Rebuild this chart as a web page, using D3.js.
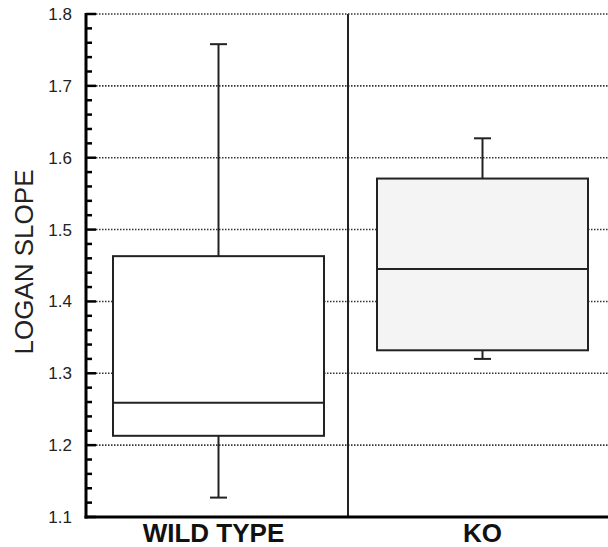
<!DOCTYPE html>
<html>
<head>
<meta charset="utf-8">
<script src="https://cdn.jsdelivr.net/npm/d3@7"></script>
<style>
  body { margin: 0; background: #fff; }
  svg { display: block; font-family: "Liberation Sans", Arial, sans-serif; }
</style>
</head>
<body>
<script>
// groups and box statistics
var groups = ["WILD TYPE", "KO"];
var whiskerLow = [1.127, 1.320];
var q1 = [1.213, 1.332];
var median = [1.259, 1.445];
var q3 = [1.463, 1.571];
var whiskerHigh = [1.758, 1.627];
var fills = ["#ffffff", "#f4f4f4"];
var yTicks = [1.1, 1.2, 1.3, 1.4, 1.5, 1.6, 1.7, 1.8];

var width = 608,
    height = 547;
// plot frame (note: "top" is reserved on window, so use prefixed names)
var plotLeft = 86, plotRight = 608, plotTop = 14, plotBottom = 517;

var svg = d3.select("body").append("svg")
    .attr("width", width)
    .attr("height", height);

var y = d3.scaleLinear().domain([1.1, 1.8]).range([plotBottom, plotTop]);
var x = d3.scaleBand().domain(groups).range([plotLeft, plotRight]).paddingInner(0).paddingOuter(0);
var boxW = 211;

var data = groups.map(function(g, i){
    return {name: g, lo: whiskerLow[i], q1: q1[i], med: median[i], q3: q3[i], hi: whiskerHigh[i], fill: fills[i]};
});

// dotted gridlines
svg.selectAll(".grid")
    .data(yTicks.filter(function(d){ return d > 1.1; }))
    .enter().append("line")
    .attr("x1", plotLeft + 10).attr("x2", plotRight)
    .attr("y1", function(d){ return y(d); })
    .attr("y2", function(d){ return y(d); })
    .attr("stroke", "#333")
    .attr("stroke-width", 1.6)
    .attr("stroke-dasharray", "1.5,1.5");

// group separator
svg.append("line")
    .attr("x1", x("KO") + 1).attr("x2", x("KO") + 1)
    .attr("y1", plotTop).attr("y2", plotBottom)
    .attr("stroke", "#222").attr("stroke-width", 2);

var boxes = svg.selectAll(".box").data(data).enter().append("g")
    .attr("transform", function(d, i){ return "translate(" + (x(d.name) + x.bandwidth() / 2 + (i ? 5 : 2)) + ",0)"; });

boxes.append("line")
    .attr("x1", 0).attr("x2", 0)
    .attr("y1", function(d){ return y(d.lo); })
    .attr("y2", function(d){ return y(d.hi); })
    .attr("stroke", "#222").attr("stroke-width", 2);

boxes.selectAll(".cap")
    .data(function(d){ return [d.lo, d.hi]; })
    .enter().append("line")
    .attr("x1", -8.5).attr("x2", 8.5)
    .attr("y1", function(v){ return y(v); })
    .attr("y2", function(v){ return y(v); })
    .attr("stroke", "#222").attr("stroke-width", 2);

boxes.append("rect")
    .attr("x", -boxW / 2)
    .attr("width", boxW)
    .attr("y", function(d){ return y(d.q3); })
    .attr("height", function(d){ return y(d.q1) - y(d.q3); })
    .attr("fill", function(d){ return d.fill; })
    .attr("stroke", "#222").attr("stroke-width", 2);

boxes.append("line")
    .attr("x1", -boxW / 2).attr("x2", boxW / 2)
    .attr("y1", function(d){ return y(d.med); })
    .attr("y2", function(d){ return y(d.med); })
    .attr("stroke", "#222").attr("stroke-width", 2);

// y axis with inward ticks
var minor = d3.range(1.1, 1.8001, 0.02);
svg.selectAll(".minor")
    .data(minor)
    .enter().append("line")
    .attr("x1", plotLeft).attr("x2", function(d){ return Math.abs(d * 10 - Math.round(d * 10)) < 0.01 ? plotLeft + 10 : plotLeft + 6; })
    .attr("y1", function(d){ return y(d); })
    .attr("y2", function(d){ return y(d); })
    .attr("stroke", "#000").attr("stroke-width", 2.5);

svg.append("line")
    .attr("x1", plotLeft).attr("x2", plotLeft)
    .attr("y1", plotTop - 1).attr("y2", plotBottom + 1.5)
    .attr("stroke", "#000").attr("stroke-width", 3);

svg.append("line")
    .attr("x1", plotLeft - 1.5).attr("x2", plotRight)
    .attr("y1", plotBottom).attr("y2", plotBottom)
    .attr("stroke", "#000").attr("stroke-width", 3);

svg.selectAll(".ytick")
    .data(yTicks)
    .enter().append("text")
    .attr("x", 72)
    .attr("y", function(d){ return y(d) + 6; })
    .attr("text-anchor", "end")
    .attr("font-size", 17)
    .attr("fill", "#222")
    .text(function(d){ return d3.format(".1f")(d); });

// category labels
svg.selectAll(".cat")
    .data(data)
    .enter().append("text")
    .attr("x", function(d, i){ return x(d.name) + x.bandwidth() / 2 + (i ? 5 : -3); })
    .attr("y", 542)
    .attr("text-anchor", "middle")
    .attr("font-size", 26)
    .attr("font-weight", "bold")
    .attr("fill", "#111")
    .text(function(d){ return d.name; });

// y axis title
svg.append("text")
    .attr("transform", "translate(33,262) rotate(-90)")
    .attr("text-anchor", "middle")
    .attr("font-size", 26)
    .attr("fill", "#222")
    .text("LOGAN SLOPE");
</script>
</body>
</html>
